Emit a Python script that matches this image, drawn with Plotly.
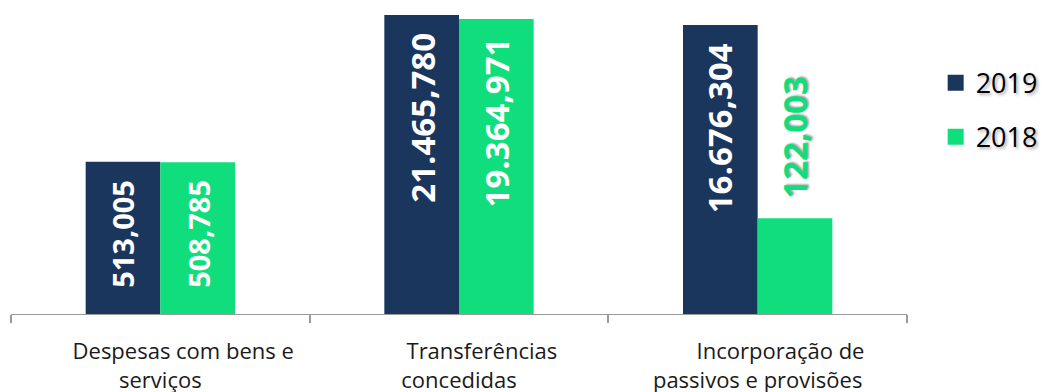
import math
import plotly.graph_objects as go

categories = ["Despesas com bens e serviços", "Transferências concedidas", "Incorporação de passivos e provisões"]
tick_labels = ["\u00a0" * 8 + "Despesas com bens e<br>serviços",
               "\u00a0" * 8 + "Transferências<br>concedidas",
               "\u00a0" * 8 + "Incorporação de<br>passivos e provisões"]
series_names = ["2019", "2018"]
values_2019 = [513005, 21465780, 16676304]
values_2018 = [508785, 19364971, 122003]
labels_2019 = ["513,005", "21.465,780", "16.676,304"]
labels_2018 = ["508,785", "19.364,971", "122,003"]
label_sizes = [29, 33, 33]

NAVY = "#1B365D"
GREEN = "#10DE7C"
BARGAP = 0.5
Y_RANGE = [4.029, 7.387]
OUTSIDE_BELOW = 200000

fig = go.Figure()
x_idx = list(range(len(categories)))
for name, vals, col in [(series_names[0], values_2019, NAVY), (series_names[1], values_2018, GREEN)]:
    fig.add_trace(go.Bar(x=x_idx, y=vals, name=name, marker=dict(color=col, line=dict(width=0)),
                         showlegend=False, hoverinfo="skip"))
    fig.add_trace(go.Scatter(x=[None], y=[None], mode="markers", name=name, legendgroup=name,
                             marker=dict(symbol="square", size=16, color=col)))

off = (1 - BARGAP) / 4
annotations = []
for s, (vals, labs) in enumerate([(values_2019, labels_2019), (values_2018, labels_2018)]):
    for i, (v, t) in enumerate(zip(vals, labs)):
        inside = v >= OUTSIDE_BELOW
        annotations.append(dict(
            x=i + (-off if s == 0 else off), y=math.log10(v), xref="x", yref="y",
            text=t, showarrow=False, textangle=-90,
            yanchor="top" if inside else "bottom", xanchor="center",
            yshift=-16 if inside else 17,
            font=dict(family="Open Sans", size=label_sizes[i], weight="bold",
                      color="white" if inside else GREEN,
                      shadow="none" if inside else "1px 2px 2px rgba(0,0,0,0.35)"),
        ))

fig.update_layout(
    width=1042, height=392,
    margin=dict(l=11, r=135, t=10, b=78, autoexpand=False),
    paper_bgcolor="white", plot_bgcolor="white",
    barmode="group", bargap=BARGAP, bargroupgap=0,
    font=dict(family="Open Sans", color="#1a1a1a"),
    annotations=annotations,
    legend=dict(x=1.032, y=0.84, xanchor="left", yanchor="top",
                font=dict(size=27, color="#000", shadow="2px 2px 3px rgba(0,0,0,0.3)"),
                tracegroupgap=16, itemsizing="trace", bgcolor="rgba(0,0,0,0)"),
)
fig.update_xaxes(type="linear", range=[-0.5, len(categories) - 0.5],
                 tickmode="array", tickvals=x_idx, ticktext=tick_labels,
                 showline=True, linecolor="#9a9a9a", linewidth=1,
                 ticks="", showgrid=False, zeroline=False, ticklabelstandoff=18,
                 tickfont=dict(size=22, color="#1a1a1a"))
fig.update_xaxes(minor=dict(tickmode="array", tickvals=[i - 0.5 for i in range(len(categories) + 1)],
                            ticks="outside", ticklen=8, tickcolor="#9a9a9a", tickwidth=1.5))
fig.update_yaxes(type="log", range=Y_RANGE, showticklabels=False, showgrid=False,
                 zeroline=False, showline=False)

fig.write_html("out.html")
